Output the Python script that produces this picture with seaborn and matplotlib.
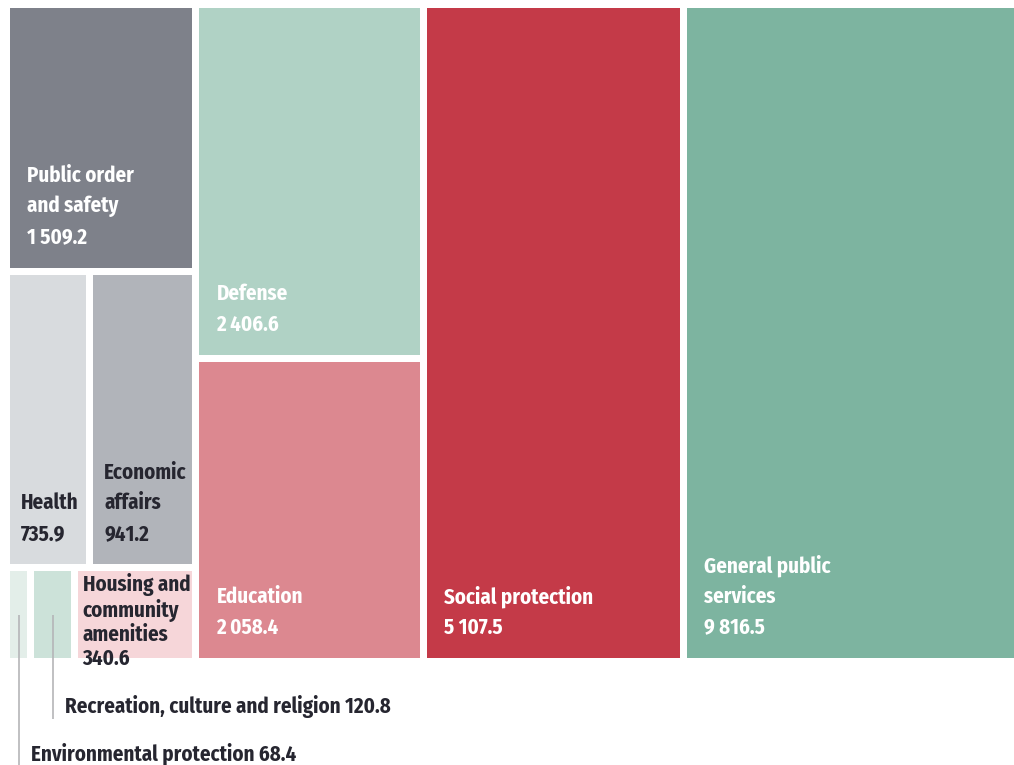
import numpy as np
import pandas as pd
import seaborn as sns
import matplotlib.pyplot as plt
from matplotlib.patches import Rectangle
from matplotlib import font_manager

# ---------------- data ----------------
categories = ["Public order\nand safety", "Health", "Economic\naffairs",
              "Environmental protection", "Recreation, culture and religion",
              "Housing and\ncommunity\namenities", "Defense", "Education",
              "Social protection", "General public\nservices"]
values = [1509.2, 735.9, 941.2, 68.4, 120.8, 340.6, 2406.6, 2058.4, 5107.5, 9816.5]
column = [0, 0, 0, 0, 0, 0, 1, 1, 2, 3]
row = [0, 1, 1, 2, 2, 2, 0, 1, 0, 0]
label_mode = ["bottom", "bottom", "bottom", "callout", "callout", "top",
              "bottom", "bottom", "bottom", "bottom"]
colors = ["#7e818a", "#d8dbde", "#b1b4ba", "#e3eee9", "#cce2d9", "#f6d6d9",
          "#b0d2c5", "#dc8890", "#c43a48", "#7db4a0"]
text_colors = ["white", "#262630", "#262630", "#262630", "#262630", "#262630",
               "white", "white", "white", "white"]

df = pd.DataFrame(dict(cat=categories, val=values, col=column, row=row,
                       mode=label_mode, color=colors, tcolor=text_colors))


def fmt(v):
    return f"{v:,.1f}".replace(",", " ")


# ---------------- style ----------------
sns.set_theme(style="white")
avail = {f.name for f in font_manager.fontManager.ttflist}
fam = [f for f in ["Fira Sans Condensed", "PT Sans Narrow", "Roboto Condensed",
                   "Open Sans Condensed", "Barlow Semi Condensed", "DejaVu Sans"]
       if f in avail]
plt.rcParams['font.family'] = fam[:1] + ["DejaVu Sans"]

W, H = 1014, 765
fig = plt.figure(figsize=(W / 100, H / 100), dpi=100)
ax_l, ax_t, ax_b, ax_r = 6.5, 4.5, 661.5, 1014
ax = fig.add_axes([ax_l / W, 1 - ax_b / H, (ax_r - ax_l) / W, (ax_b - ax_t) / H])

# ---------------- slice-and-dice treemap layout ----------------
total_h = 1.0
col_sums = df.groupby("col")["val"].sum()
col_w = col_sums / total_h
col_x0 = col_w.cumsum() - col_w
gps_visible = 0.66
xmax = col_x0.iloc[-1] + gps_visible * col_w.iloc[-1]
ax.set_xlim(0, xmax)
ax.set_ylim(1, 0)
ax.axis("off")

px_x = xmax / (ax_r - ax_l)      # data units per pixel
px_y = 1.0 / (ax_b - ax_t)
gap = 3.5

rects = {}
for c, cdf in df.groupby("col"):
    y0 = 0.0
    csum = cdf["val"].sum()
    for r, rdf in cdf.groupby("row"):
        rsum = rdf["val"].sum()
        h = rsum / csum
        x0 = col_x0[c]
        for i, rr in rdf.iterrows():
            w = col_w[c] * rr["val"] / rsum
            rects[i] = (x0, y0, w, h)
            x0 += w
        y0 += h

fs = 15
for i, rr in df.iterrows():
    x, y, w, h = rects[i]
    xi, yi = x + gap * px_x, y + gap * px_y
    wi, hi = w - 2 * gap * px_x, h - 2 * gap * px_y
    ax.add_patch(Rectangle((xi, yi), wi, hi, facecolor=rr["color"], edgecolor="none"))
    label = f"{rr['cat']}\n{fmt(rr['val'])}"
    wpx = wi / px_x
    padx = 17 if wpx > 100 else 11
    if rr["mode"] == "bottom":
        ax.annotate(label, (xi, yi + hi), xytext=(padx, 20), textcoords="offset pixels",
                    ha="left", va="bottom", fontsize=fs, fontweight="bold",
                    color=rr["tcolor"], linespacing=1.55,
                    annotation_clip=False)
    elif rr["mode"] == "top":
        ax.annotate(label, (xi, yi), xytext=(5, -2), textcoords="offset pixels",
                    ha="left", va="top", fontsize=fs, fontweight="bold",
                    color=rr["tcolor"], linespacing=1.15,
                    annotation_clip=False)

# callouts below the treemap
callouts = df[df["mode"] == "callout"].sort_values("val", ascending=False)
for k, (i, rr) in enumerate(callouts.iterrows()):
    x, y, w, h = rects[i]
    cx = x + w / 2
    cy = y + h / 2
    drop = 45 + 47 * k          # pixels below axes bottom for the label
    y_end = 1 + (drop + 12) * px_y
    ax.plot([cx, cx], [cy, y_end], color="#b5b5b8", lw=1.2, clip_on=False,
            solid_capstyle="butt")
    ax.annotate(f"{rr['cat']} {fmt(rr['val'])}",
                (cx, 1 + drop * px_y), xytext=(12, 0), textcoords="offset pixels",
                ha="left", va="center", fontsize=fs, fontweight="bold",
                color="#262630", annotation_clip=False)

fig.savefig("out.png", dpi=100)
